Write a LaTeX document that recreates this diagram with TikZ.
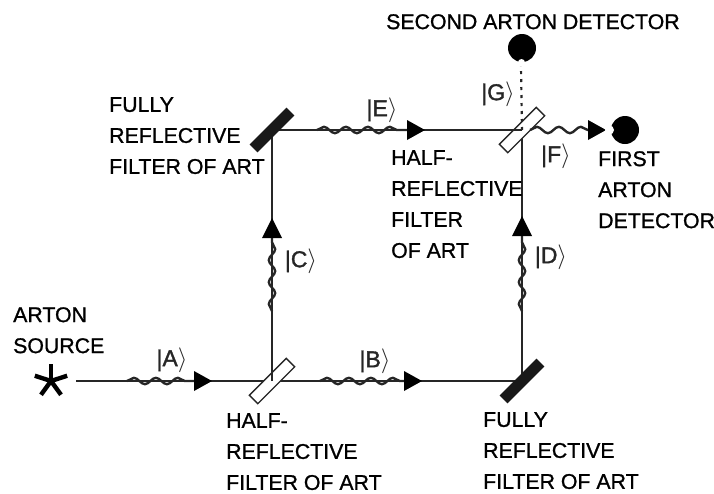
\documentclass[tikz,border=0pt]{standalone}
\usepackage{fontspec}
\setmainfont{Liberation Sans}
\newfontfamily\lblfont{Liberation Sans}[FakeBold=1.0]
\newfontfamily\ketfont{Liberation Sans}[FakeBold=1.4]
\usetikzlibrary{arrows.meta,decorations.pathmorphing,calc}
\tikzset{
  lbl/.style={align=left,anchor=north west,inner sep=0pt,font=\lblfont\fontsize{21.3}{31}\selectfont,text=black},
  ket/.style={inner sep=0pt,font=\ketfont\fontsize{23}{26}\selectfont,text=black!85},
  beam/.style={draw=black!85,line width=1.3pt},
  wave/.style={draw=black!85,line width=2.4pt,decorate,decoration={snake,amplitude=3.2pt,segment length=22pt}},
  tip/.style={fill=black,draw=none},
  half/.style={draw=black!85,fill=white,line width=1.4pt,minimum width=52pt,minimum height=12pt,inner sep=0pt,rotate=45},
  full/.style={fill=black!90,draw=none,minimum width=52pt,minimum height=11pt,inner sep=0pt,rotate=45},
  det/.style={circle,fill=black,minimum size=28pt,inner sep=0pt}
}
\newcommand{\kt}[1]{|#1$\rangle$}
\begin{document}
\begin{tikzpicture}[x=1pt,y=-1pt]
\useasboundingbox (0,0) rectangle (714,493);
\coordinate (S) at (76,381);
\coordinate (BS1) at (272,381);
\coordinate (M1) at (272,130);
\coordinate (M2) at (522,381);
\coordinate (BS2) at (522,130);
% beams
\draw[beam] (S) -- (BS1);
\draw[beam] (BS1) -- (M2);
\draw[beam] (BS1) -- (M1);
\draw[beam] (M2) -- (BS2);
\draw[beam] (M1) -- (BS2);
% optics
\node[half] (h1) at (BS1) {};
\node[half] (h2) at (BS2) {};
\node[full] (f1) at (M1) {};
\node[full] (f2) at (M2) {};
\draw[beam] (BS1) -- ++(0,-8);
\draw[beam] (BS2) -- ++(-10,0);
\draw[draw=black!85,line width=2.2pt,dash pattern=on 3pt off 5pt] (BS2) -- (521,66);
% wave packets
\draw[wave] (127,381) -- (195,381);
\draw[wave] (320,381) -- (404,381);
\draw[wave] (272,311) -- (272,238);
\draw[wave] (317,130) -- (407,130);
\draw[wave] (522,311) -- (522,232);
\draw[wave] (530,130) -- (590,130);
% arrowheads
\fill[tip] (212,381) -- (194,371) -- (194,391) -- cycle;
\fill[tip] (422,381) -- (404,371) -- (404,391) -- cycle;
\fill[tip] (272,218) -- (262,238) -- (282,238) -- cycle;
\fill[tip] (425,130) -- (407,120) -- (407,140) -- cycle;
\fill[tip] (522,216) -- (512,236) -- (532,236) -- cycle;
\fill[tip] (606,130) -- (588,120) -- (588,140) -- cycle;
% detectors
\node[det] (d1) at (625,130) {};
\fill[white] (609.5,130) circle (4.5pt);
\node[det] (d2) at (522,48) {};
\fill[white] (521.5,62.5) circle (3.5pt);
% source star
\coordinate (st) at (51,381);
\foreach \a in {90,18,-54,-126,162}
  \draw[line width=4.4pt] (st) -- ($(st)+({17*cos(\a)},{-17*sin(\a)})$);
% labels
\node[lbl] (l1) at (13,307) {ARTON\\SOURCE};
\node[lbl] (l2) at (226,413) {HALF-\\REFLECTIVE\\FILTER OF ART};
\node[lbl] (l3) at (483,412) {FULLY\\REFLECTIVE\\FILTER OF ART};
\node[lbl] (l4) at (109,97) {FULLY\\REFLECTIVE\\FILTER OF ART};
\node[lbl] (l5) at (391,150) {HALF-\\REFLECTIVE\\FILTER\\OF ART};
\node[lbl] (l6) at (598,151) {FIRST\\ARTON\\DETECTOR};
\node[lbl] (l7) at (386,14) {SECOND ARTON DETECTOR};
% kets
\node[ket] (A) at (172,360) {\kt{A}};
\node[ket] (B) at (375,361) {\kt{B}};
\node[ket] (C) at (301,261) {\kt{C}};
\node[ket] (D) at (551,257) {\kt{D}};
\node[ket] (E) at (382,110) {\kt{E}};
\node[ket] (Fk) at (556,156) {\kt{F}};
\node[ket] (G) at (498,94) {\kt{G}};
\end{tikzpicture}
\end{document}
